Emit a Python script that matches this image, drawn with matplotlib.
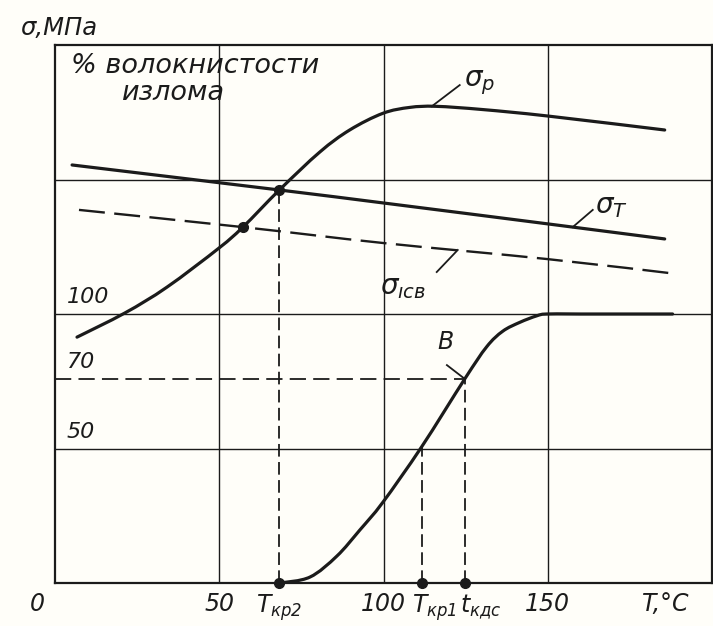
import numpy as np
import matplotlib as mpl
from matplotlib import pyplot as plt
from matplotlib.path import Path
from matplotlib.patches import PathPatch

mpl.rcParams['font.family'] = ['DejaVu Sans']
mpl.rcParams['font.style'] = 'italic'
mpl.rcParams['mathtext.fontset'] = 'dejavusans'

# curves (x = T, deg C; y = chart units, 100 = 100 % fibrous)
sp_x = [6.7, 21.3, 34.1, 49.9, 57.2, 68.3, 80.6, 89.7, 99.8, 108.0, 116.0, 130.2, 150.0, 185.6]
sp_y = [91.4, 100.4, 110.0, 124.5, 132.3, 146.1, 160.2, 168.4, 174.6, 176.8, 177.2, 176.0, 173.6, 168.4]

st_x = [5.2, 68.3, 99.8, 150.0, 185.6]
st_y = [155.4, 146.1, 141.3, 133.5, 127.9]

ssv_x = [7.3, 57.2, 99.8, 150.0, 189.2]
ssv_y = [138.7, 132.3, 126.4, 120.4, 114.9]

fib_x = [68.5, 77.6, 85.8, 92.8, 99.8, 111.6, 124.7, 131.4, 136.3, 141.5, 146.6, 149.7, 160.0, 188.0]
fib_y = [0.0, 2.2, 10.0, 19.7, 30.0, 50.6, 75.8, 87.8, 93.6, 96.9, 99.3, 100.0, 100.0, 100.0]

t_kr2 = 68.3
t_kr1 = 111.6
t_kds = 124.7
sig_cross = 146.1      # sigma_p meets sigma_T at T_kr2
sv_cross = (57.2, 132.3)
fib_kr1 = 50.6
fib_b = 75.8

grid_x = [50, 100, 150]
grid_y = [50, 100, 150]
pct_labels = ['50', '70', '100']
pct_pos = [50, fib_b, 100]

ink = '#1b1b1b'


def smooth(xs, ys):
	# bezier through the read points (catmull-rom handles)
	p = np.column_stack([xs, ys]).astype(float)
	verts = [p[0]]
	codes = [Path.MOVETO]
	n = len(p)
	for i in range(n - 1):
		p0 = p[i - 1] if i > 0 else p[i]
		p3 = p[i + 2] if i + 2 < n else p[i + 1]
		c1 = p[i] + (p[i + 1] - p0) / 6.0
		c2 = p[i + 1] - (p3 - p[i]) / 6.0
		verts += [c1, c2, p[i + 1]]
		codes += [Path.CURVE4] * 3
	return Path(verts, codes)


def draw_curve(ax, xs, ys, lw, dashes=None):
	pp = PathPatch(smooth(xs, ys), fill=False, edgecolor=ink, lw=lw, capstyle='round')
	if dashes:
		pp.set_linestyle((0, dashes))
		pp.set_capstyle('butt')
	ax.add_patch(pp)


fig = plt.figure(figsize=(7.13, 6.26), dpi=100)
fig.patch.set_facecolor('#fffef9')
ax = fig.add_axes([55/713, 43/626, 657/713, 538/626])
ax.set_facecolor('#fffef9')
ax.set_xlim(0, 200)
ax.set_ylim(0, 200)
ax.set_xticks([])
ax.set_yticks([])
for s in ax.spines.values():
	s.set_linewidth(1.6)
	s.set_color(ink)

for gx in grid_x:
	ax.axvline(gx, color=ink, lw=1.0)
for gy in grid_y:
	ax.axhline(gy, color=ink, lw=1.0)

# curves
draw_curve(ax, sp_x, sp_y, 2.3)
draw_curve(ax, st_x, st_y, 2.3)
draw_curve(ax, ssv_x, ssv_y, 1.7, dashes=(11, 4))
draw_curve(ax, fib_x, fib_y, 2.3)

# construction lines
for xv, yv in [(t_kr2, sig_cross), (t_kr1, fib_kr1), (t_kds, fib_b)]:
	l, = ax.plot([xv, xv], [0, yv], color=ink, lw=1.3)
	l.set_dashes((7, 3))
l, = ax.plot([0, t_kds], [fib_b, fib_b], color=ink, lw=1.3)
l.set_dashes((9, 4))

ax.plot([t_kr2, t_kr1, t_kds, t_kr2, sv_cross[0]], [0, 0, 0, sig_cross, sv_cross[1]],
	'o', color=ink, ms=7, clip_on=False, zorder=5)

# percent labels
for lab, yv in zip(pct_labels, pct_pos):
	ax.text(3.5, yv + 2.5, lab, fontsize=16, color=ink, va='bottom', ha='left')

ax.text(4.8, 192.2, '% волокнистости', fontsize=19.5, color=ink, va='center', ha='left')
ax.text(20.5, 182.3, 'излома', fontsize=19.5, color=ink, va='center', ha='left')

# curve labels with leaders
ax.plot([114.7, 123.2], [177.2, 185.1], color=ink, lw=1.3)
ax.text(124.5, 186, r'$\sigma_p$', fontsize=20, color=ink, va='center', ha='left')
ax.plot([157.6, 163.7], [132.3, 138.7], color=ink, lw=1.3)
ax.text(164.5, 140, r'$\sigma_T$', fontsize=20, color=ink, va='center', ha='left')
ax.plot([116.2, 122.6], [115.6, 123.8], color=ink, lw=1.3)
ax.text(99.0, 110, r'$\sigma_{\mathit{ıсв}}$', fontsize=20, color=ink, va='center', ha='left')
ax.plot([119.3, 124.4], [81.0, 76.2], color=ink, lw=1.3)
ax.text(119.0, 85, 'B', fontsize=17, color=ink, va='bottom', ha='center')

# labels along the bottom
bx = [-5.5, 50, t_kr2, 100, 108.6, 123.2, 150, 186]
bha = ['center', 'center', 'center', 'center', 'left', 'left', 'center', 'center']
blab = ['0', '50', r'$T_{кр2}$', '100', r'$T_{кр1}$', r'$t_{кдс}$', '150', 'T,°C']
for xv, lab, h in zip(bx, blab, bha):
	ax.text(xv, -3.5, lab, fontsize=17, color=ink, va='top', ha=h, clip_on=False)

fig.text(20/713, 1 - 28/626, 'σ,МПа', fontsize=17.5, color=ink, va='center', ha='left')

plt.savefig('out.png', dpi=100, facecolor=fig.get_facecolor())
plt.close()
